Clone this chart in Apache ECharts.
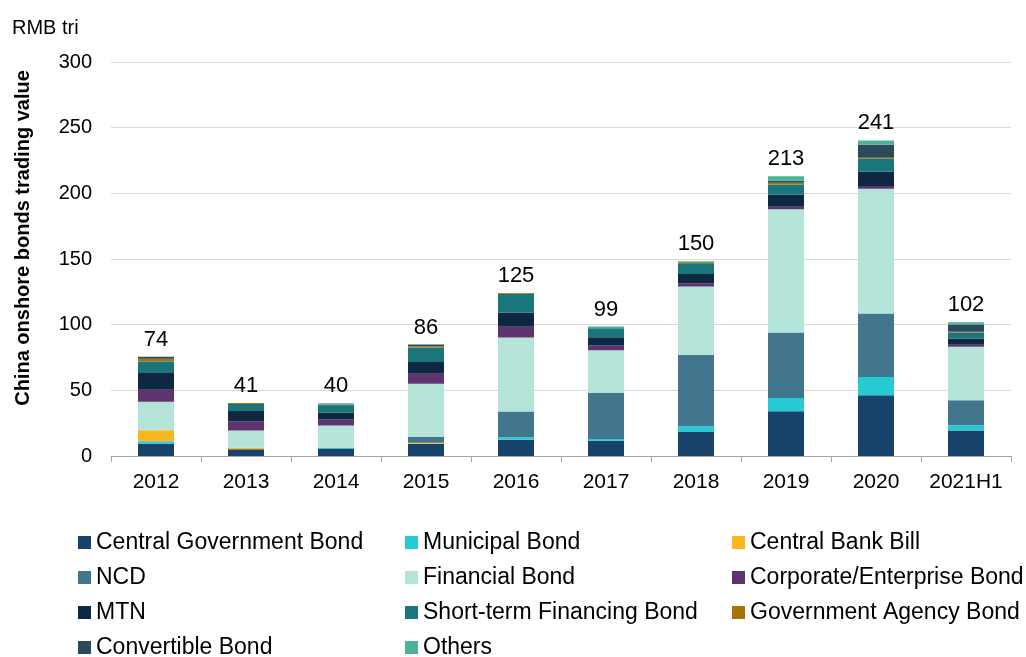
<!DOCTYPE html>
<html>
<head>
<meta charset="utf-8">
<title>China onshore bonds trading value</title>
<script src="https://cdn.jsdelivr.net/npm/echarts@6/dist/echarts.min.js"></script>
<style>
  html, body { margin: 0; padding: 0; background: #fff; }
  #chartColumn { width: 1026px; height: 657px; }
</style>
</head>
<body>
<div id="chartColumn"></div>
<script>
  // categories and per-segment values (RMB tri)
  var years = ['2012', '2013', '2014', '2015', '2016', '2017', '2018', '2019', '2020', '2021H1'];
  var totals = [74, 41, 40, 86, 125, 99, 150, 213, 241, 102];

  var centralGov   = [9.3, 5.1, 5.8, 9.3, 12.3, 11.6, 18.2, 34.0, 46.2, 19.4];
  var municipal    = [2.0, 0, 0.3, 0, 2.0, 1.3, 4.5, 10.2, 14.0, 4.0];
  var centralBank  = [8.4, 1.2, 0, 0.8, 0, 0, 0, 0, 0, 0];
  var ncd          = [0, 0, 0, 4.3, 19.5, 35.1, 54.3, 49.8, 48.3, 19.0];
  var financial    = [21.6, 13.2, 17.1, 40.7, 56.5, 32.6, 52.0, 93.8, 95.0, 40.8];
  var corporate    = [9.1, 7.0, 4.8, 7.6, 8.1, 3.8, 2.6, 2.0, 2.0, 1.5];
  var mtn          = [13.4, 7.8, 5.0, 8.8, 10.8, 6.1, 7.0, 9.1, 10.9, 4.8];
  var shortTerm    = [8.1, 5.3, 5.3, 11.1, 14.4, 6.8, 7.6, 7.9, 9.9, 4.6];
  var govAgency    = [2.1, 0.8, 0, 1.0, 0.5, 0, 0.8, 1.2, 0.8, 0.5];
  var convertible  = [1.5, 0, 1.0, 1.3, 0, 0, 0, 1.5, 9.9, 5.5];
  var others       = [0, 0, 0.8, 0, 0, 1.3, 1.3, 3.6, 3.3, 1.8];

  var seriesList = [
    {name: 'Central Government Bond', data: centralGov, color: '#17426b'},
    {name: 'Municipal Bond', data: municipal, color: '#26cad3'},
    {name: 'Central Bank Bill', data: centralBank, color: '#fcb71e'},
    {name: 'NCD', data: ncd, color: '#42768c'},
    {name: 'Financial Bond', data: financial, color: '#b4e3d8'},
    {name: 'Corporate/Enterprise Bond', data: corporate, color: '#5e3370'},
    {name: 'MTN', data: mtn, color: '#0e2841'},
    {name: 'Short-term Financing Bond', data: shortTerm, color: '#1a767a'},
    {name: 'Government Agency Bond', data: govAgency, color: '#a7720a'},
    {name: 'Convertible Bond', data: convertible, color: '#2c4a5a'},
    {name: 'Others', data: others, color: '#4bb39a'}
  ];

  var font = 'Liberation Sans, Arial, sans-serif';
  var chartLine = echarts.init(document.getElementById('chartColumn'));

  var series = seriesList.map(function (s) {
    return {
      name: s.name,
      type: 'bar',
      stack: 'total',
      barWidth: '40%',
      itemStyle: {color: s.color},
      emphasis: {disabled: true},
      data: s.data
    };
  });
  // zero-height bar on top of the stack just to carry the total labels
  series.push({
    name: 'Total',
    type: 'bar',
    stack: 'total',
    barWidth: '40%',
    data: years.map(function () { return 0; }),
    label: {
      show: true,
      position: 'top',
      distance: 6,
      color: '#000',
      fontSize: 22,
      fontFamily: font,
      formatter: function (p) { return totals[p.dataIndex]; }
    }
  });

  var legendBase = {
    orient: 'vertical',
    icon: 'rect',
    itemWidth: 13,
    itemHeight: 13,
    itemGap: 12,
    height: 160,
    padding: 0,
    textStyle: {fontSize: 23, lineHeight: 23, color: '#000', fontFamily: font},
    selectedMode: false
  };

  chartLine.setOption({
    animation: false,
    grid: {left: 111, right: 15, top: 62, bottom: 201, containLabel: false},
    legend: [
      Object.assign({left: 78, top: 531, data: ['Central Government Bond', 'NCD', 'MTN', 'Convertible Bond']}, legendBase),
      Object.assign({left: 405, top: 531, data: ['Municipal Bond', 'Financial Bond', 'Short-term Financing Bond', 'Others']}, legendBase),
      Object.assign({left: 732, top: 531, data: ['Central Bank Bill', 'Corporate/Enterprise Bond', 'Government Agency Bond']}, legendBase)
    ],
    graphic: [
      {type: 'text', left: 12, top: 18, style: {text: 'RMB tri', font: '20px ' + font, fill: '#000'}},
      {
        type: 'text', x: 23, y: 238, rotation: Math.PI / 2,
        style: {text: 'China onshore bonds trading value', font: 'bold 20px ' + font, fill: '#000', align: 'center', verticalAlign: 'middle'}
      }
    ],
    xAxis: {
      type: 'category',
      data: years,
      axisLine: {lineStyle: {color: '#a6a6a6'}},
      axisTick: {show: true, length: 6, lineStyle: {color: '#a6a6a6'}},
      axisLabel: {color: '#000', fontSize: 21, fontFamily: font, margin: 16, interval: 0}
    },
    yAxis: {
      type: 'value',
      min: 0,
      max: 300,
      interval: 50,
      axisLine: {show: false},
      axisTick: {show: false},
      splitLine: {lineStyle: {color: '#d9d9d9'}},
      axisLabel: {color: '#000', fontSize: 20, fontFamily: font, margin: 19}
    },
    series: series
  });
</script>
</body>
</html>
